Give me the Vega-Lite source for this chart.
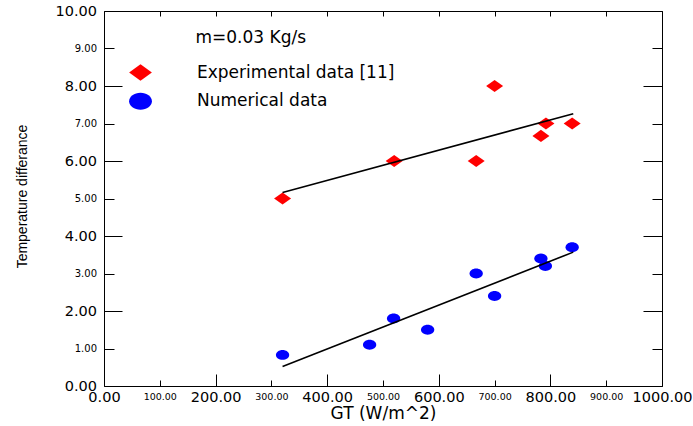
{
  "$schema": "https://vega.github.io/schema/vega-lite/v6.json",
  "width": 558,
  "height": 375,
  "autosize": "none",
  "padding": {"left": 104, "top": 11, "right": 31, "bottom": 40},
  "background": "white",
  "config": {
    "view": {"stroke": "#000", "strokeWidth": 1},
    "axis": {
      "grid": false,
      "domain": false,
      "tickColor": "#000",
      "tickWidth": 1,
      "labelColor": "#000",
      "labelFont": "DejaVu Sans",
      "titleColor": "#000",
      "labelFlush": false,
      "labelOverlap": false
    },
    "legend": {
      "orient": "none",
      "legendX": 25,
      "legendY": 50,
      "padding": 0,
      "symbolSize": 520,
      "symbolStrokeWidth": 0,
      "symbolOpacity": 1,
      "labelFont": "DejaVu Sans",
      "labelFontSize": 17,
      "labelColor": "#000",
      "labelOffset": 45,
      "labelLimit": 400,
      "rowPadding": 8.7
    }
  },
  "datasets": {
    "points": [
      {"series": "Experimental data [11]", "gt": 320, "dt": 5.0},
      {"series": "Experimental data [11]", "gt": 520, "dt": 6.0},
      {"series": "Experimental data [11]", "gt": 667, "dt": 6.0},
      {"series": "Experimental data [11]", "gt": 700, "dt": 8.0},
      {"series": "Experimental data [11]", "gt": 783, "dt": 6.67},
      {"series": "Experimental data [11]", "gt": 792, "dt": 7.0},
      {"series": "Experimental data [11]", "gt": 839, "dt": 7.0},
      {"series": "Numerical data", "gt": 320, "dt": 0.83},
      {"series": "Numerical data", "gt": 476, "dt": 1.1},
      {"series": "Numerical data", "gt": 519, "dt": 1.8},
      {"series": "Numerical data", "gt": 580, "dt": 1.5},
      {"series": "Numerical data", "gt": 667, "dt": 3.0},
      {"series": "Numerical data", "gt": 700, "dt": 2.4},
      {"series": "Numerical data", "gt": 783, "dt": 3.4},
      {"series": "Numerical data", "gt": 791, "dt": 3.2},
      {"series": "Numerical data", "gt": 839, "dt": 3.7}
    ],
    "fits": [
      {"series": "Experimental fit", "gt": 320, "dt": 5.16},
      {"series": "Experimental fit", "gt": 841, "dt": 7.26},
      {"series": "Numerical fit", "gt": 320, "dt": 0.52},
      {"series": "Numerical fit", "gt": 841, "dt": 3.57}
    ],
    "note": [
      {"label": "m=0.03 Kg/s", "gt": 263, "dt": 9.27}
    ]
  },
  "layer": [
    {
      "data": {"name": "points"},
      "transform": [{"filter": "datum.series === 'Experimental data [11]'"}],
      "mark": {"type": "point", "filled": true, "opacity": 1, "size": 289, "strokeWidth": 0},
      "encoding": {
        "x": {
          "field": "gt", "type": "quantitative",
          "scale": {"domain": [0, 1000], "nice": false, "zero": false},
          "axis": {
            "orient": "bottom", "values": [0, 200, 400, 600, 800, 1000], "format": ".2f",
            "tickSize": -12, "labelPadding": 23, "labelBaseline": "middle", "labelFontSize": 14.5,
            "title": "GT (W/m^2)", "titleFont": "DejaVu Sans", "titleFontSize": 17, "titleFontWeight": "normal",
            "titleX": 279, "titleY": 32.5, "titleBaseline": "alphabetic", "titleAlign": "center"
          }
        },
        "y": {
          "field": "dt", "type": "quantitative",
          "scale": {"domain": [0, 10], "nice": false, "zero": false},
          "axis": {
            "orient": "left", "values": [0, 2, 4, 6, 8, 10], "format": ".2f",
            "tickSize": -18, "labelPadding": 25.5, "labelFontSize": 14.5,
            "title": "Temperature differance", "titleFont": "Liberation Sans", "titleFontSize": 14,
            "titleFontWeight": "normal", "titleAngle": -90, "titleX": -78, "titleY": 185,
            "titleBaseline": "alphabetic", "titleAlign": "center"
          }
        },
        "color": {
          "field": "series", "type": "nominal",
          "scale": {"domain": ["Experimental data [11]", "Numerical data"], "range": ["#ff0000", "#0000ff"]},
          "legend": {"title": null}
        },
        "shape": {
          "field": "series", "type": "nominal",
          "scale": {"domain": ["Experimental data [11]", "Numerical data"], "range": ["M-1,0L0,-0.72L1,0L0,0.72Z", "M-1,0A1,0.74 0 1,0 1,0A1,0.74 0 1,0 -1,0Z"]},
          "legend": {"title": null}
        }
      }
    },
    {
      "data": {"name": "points"},
      "transform": [{"filter": "datum.series === 'Numerical data'"}],
      "mark": {"type": "point", "filled": true, "opacity": 1, "size": 177, "strokeWidth": 0},
      "encoding": {
        "x": {
          "field": "gt", "type": "quantitative",
          "scale": {"domain": [0, 1000], "nice": false, "zero": false},
          "axis": {
            "orient": "bottom", "values": [100, 300, 500, 700, 900], "format": ".2f",
            "tickSize": -6, "labelPadding": 16, "labelBaseline": "middle", "labelFontSize": 9.5, "title": null
          }
        },
        "y": {
          "field": "dt", "type": "quantitative",
          "scale": {"domain": [0, 10], "nice": false, "zero": false},
          "axis": {
            "orient": "left", "values": [1, 3, 5, 7, 9], "format": ".2f",
            "tickSize": -10, "labelPadding": 17.5, "labelFontSize": 10, "title": null
          }
        },
        "color": {
          "field": "series", "type": "nominal",
          "scale": {"domain": ["Experimental data [11]", "Numerical data"], "range": ["#ff0000", "#0000ff"]},
          "legend": {"title": null}
        },
        "shape": {
          "field": "series", "type": "nominal",
          "scale": {"domain": ["Experimental data [11]", "Numerical data"], "range": ["M-1,0L0,-0.72L1,0L0,0.72Z", "M-1,0A1,0.74 0 1,0 1,0A1,0.74 0 1,0 -1,0Z"]},
          "legend": {"title": null}
        }
      }
    },
    {
      "data": {"name": "fits"},
      "mark": {"type": "line", "color": "#000", "strokeWidth": 1.6},
      "encoding": {
        "x": {
          "field": "gt", "type": "quantitative",
          "scale": {"domain": [0, 1000], "nice": false, "zero": false},
          "axis": {
            "orient": "top", "values": [0, 100, 200, 300, 400, 500, 600, 700, 800, 900, 1000],
            "tickSize": -5, "labels": false, "title": null
          }
        },
        "y": {
          "field": "dt", "type": "quantitative",
          "scale": {"domain": [0, 10], "nice": false, "zero": false},
          "axis": {
            "orient": "right", "values": [0, 2, 4, 6, 8, 10],
            "tickSize": -19, "labels": false, "title": null
          }
        },
        "detail": {"field": "series", "type": "nominal"}
      }
    },
    {
      "data": {"name": "note"},
      "mark": {"type": "text", "font": "DejaVu Sans", "fontSize": 17, "color": "#000", "align": "center", "baseline": "middle"},
      "encoding": {
        "x": {
          "field": "gt", "type": "quantitative",
          "scale": {"domain": [0, 1000], "nice": false, "zero": false},
          "axis": null
        },
        "y": {
          "field": "dt", "type": "quantitative",
          "scale": {"domain": [0, 10], "nice": false, "zero": false},
          "axis": {
            "orient": "right", "values": [1, 3, 5, 7, 9],
            "tickSize": -10, "labels": false, "title": null
          }
        },
        "text": {"field": "label", "type": "nominal"}
      }
    }
  ],
  "resolve": {"axis": {"x": "independent", "y": "independent"}}
}
